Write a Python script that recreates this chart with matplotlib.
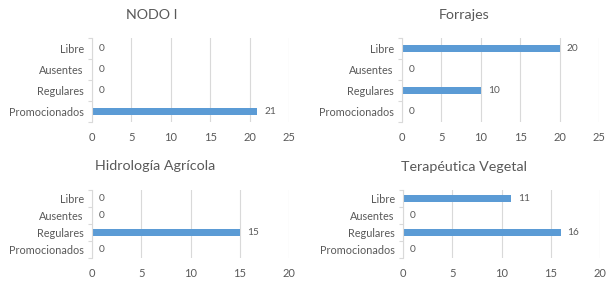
import matplotlib.pyplot as plt
import numpy as np

plt.rcParams['font.family'] = ['Lato', 'DejaVu Sans']

categories = ['Promocionados', 'Regulares', 'Ausentes', 'Libre']
titles = ['NODO I', 'Forrajes', 'Hidrología Agrícola', 'Terapéutica Vegetal']
nodo = [21, 0, 0, 0]
forrajes = [0, 10, 0, 20]
hidro = [0, 15, 0, 0]
terap = [0, 16, 0, 11]
xmax = [25, 25, 20, 20]

bar_c = '#5B9BD5'
txt_c = '#595959'
grid_c = '#D9D9D9'

W, H = 609, 281
fig = plt.figure(figsize=(W / 100, H / 100), dpi=100)

# pixel boxes: left, top, right, bottom
boxes = [(92, 38, 289, 122), (402, 38, 599, 122),
         (92, 190, 289, 258), (403, 190, 600, 258)]
title_pos = [(152, 15), (464, 15), (155, 166), (464, 167)]
bar_h = [0.38, 0.38, 0.36, 0.36]

for i, vals in enumerate([nodo, forrajes, hidro, terap]):
    l, t, r, b = boxes[i]
    ax = fig.add_axes([l / W, 1 - b / H, (r - l) / W, (b - t) / H])
    y = np.arange(len(categories))
    ax.barh(y, vals, height=bar_h[i], color=bar_c, zorder=3)
    ax.set_xlim(0, xmax[i])
    ax.set_ylim(-0.5, len(categories) - 0.5)
    ax.set_xticks(np.arange(0, xmax[i] + 1, 5))
    ax.set_yticks(y)
    ax.set_yticklabels(categories)
    ax.set_yticks(np.arange(-0.5, len(categories), 1), minor=True)
    ax.tick_params(axis='y', which='major', length=0, pad=6, labelsize=7.8, labelcolor=txt_c)
    ax.tick_params(axis='y', which='minor', length=3, color=grid_c, width=0.8)
    ax.tick_params(axis='x', length=0, pad=7, labelsize=8, labelcolor=txt_c)
    ax.grid(axis='x', color=grid_c, lw=0.8, zorder=0)
    for s in ['top', 'right', 'bottom']:
        ax.spines[s].set_visible(False)
    ax.spines['left'].set_color(grid_c)
    ax.spines['left'].set_linewidth(0.8)
    ax.spines['left'].set_zorder(4)
    for yy, v in zip(y, vals):
        ax.annotate(str(v), (v, yy), xytext=(5, 0), textcoords='offset points',
                    va='center', ha='left', fontsize=7.3, color=txt_c)
    tx, ty = title_pos[i]
    fig.text(tx / W, 1 - ty / H, titles[i], ha='center', va='center',
             fontsize=10.3, color=txt_c)

fig.savefig('out.png', dpi=100, facecolor='white')
